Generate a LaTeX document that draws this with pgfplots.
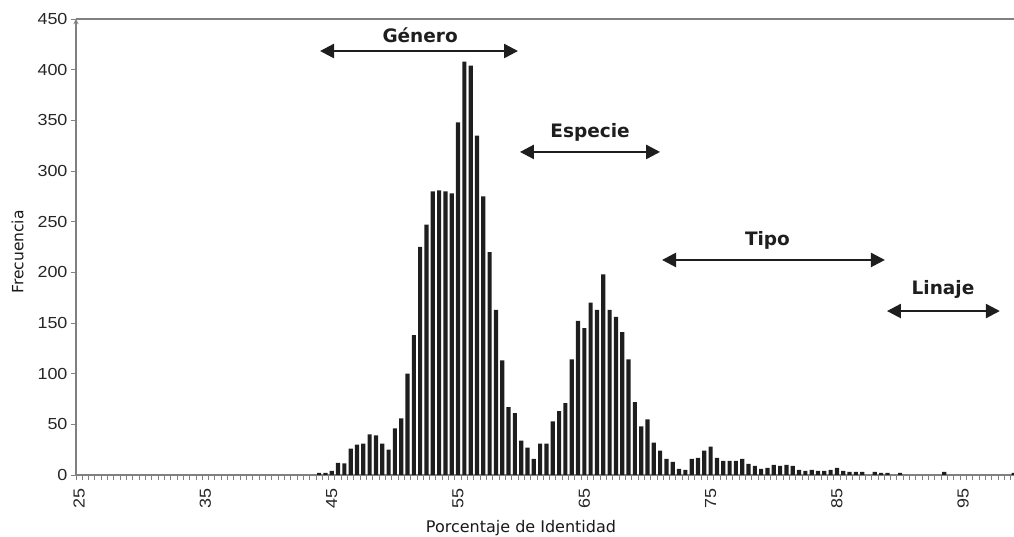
\documentclass[border=0pt]{standalone}
\usepackage{fontspec}
\setmainfont{DejaVu Sans}
\newfontfamily\tickfont{Liberation Sans}[FakeStretch=1.12]
\usepackage{pgfplots}
\pgfplotsset{compat=1.18}
\usepackage{pgfplotstable}
\usetikzlibrary{arrows.meta}
\definecolor{barc}{HTML}{1E1E1E}
\definecolor{axc}{HTML}{808080}
\pgfplotstableread{
x y
44 2
44.5 2
45 4
45.5 12
46 11.5
46.5 26
47 30
47.5 31
48 40
48.5 39
49 31
49.5 25
50 46
50.5 56
51 100
51.5 138
52 225
52.5 247
53 280
53.5 281
54 280
54.5 278
55 348
55.5 408
56 404
56.5 335
57 275
57.5 220
58 163
58.5 113
59 67
59.5 61
60 34
60.5 27
61 16
61.5 31
62 31
62.5 53
63 63
63.5 71
64 114
64.5 152
65 145
65.5 170
66 163
66.5 198
67 163
67.5 156
68 141
68.5 114
69 72
69.5 48
70 55
70.5 32
71 24
71.5 16
72 13
72.5 6
73 5
73.5 16
74 17
74.5 24
75 28
75.5 17
76 14
76.5 14
77 14
77.5 16
78 11
78.5 9
79 6
79.5 7
80 10
80.5 9
81 10
81.5 9
82 5
82.5 4
83 5
83.5 4
84 4
84.5 5
85 7
85.5 4
86 3
86.5 3
87 3
88 3
88.5 2
89 2
90 2
93.5 3
99 2
}\datatable
\begin{document}
\begin{tikzpicture}
\begin{axis}[
  name=ax,
  scale only axis,
  width=938pt, height=456pt,
  xmin=24.75, xmax=99.02,
  ymin=0, ymax=450,
  axis x line=box, axis y line=left,
  axis line style={axc, line width=1.3pt},
  xtick={25,35,45,55,65,75,85,95},
  minor xtick={24.75,25.25,...,99.3},
  ytick={0,50,...,450},
  xtick pos=bottom, ytick pos=left,
  tick align=outside,
  major x tick style={draw=none},
  minor tick length=5pt,
  major tick length=5pt,
  tick style={axc, line width=0.9pt},
  /pgf/number format/assume math mode=true,
  xticklabel style={font=\tickfont\fontsize{16}{16}\selectfont, rotate=90, anchor=east, xshift=-5pt, text=black!85},
  yticklabel style={font=\tickfont\fontsize{16}{16}\selectfont, text=black!85},
  xlabel={Porcentaje de Identidad},
  xlabel style={font=\fontsize{16}{16}\selectfont, at={(axis description cs:0.4744,0)}, anchor=base, yshift=-58pt, text=black!90},
  ylabel={Frecuencia},
  ylabel style={font=\fontsize{15.5}{15.5}\selectfont, at={(axis description cs:-0.0624,0.489)}, anchor=center, rotate=0, text=black!90},
  clip=true,
]
\addplot[ybar, bar width=0.33, fill=barc, draw=none] table[x=x,y=y] {\datatable};
\draw[barc, line width=2.4pt, {Triangle[length=14pt,width=14pt]}-{Triangle[length=14pt,width=14pt]}] (axis cs:44.07,418.4) -- (axis cs:59.75,418.4);
\node[font=\bfseries\fontsize{18.5}{18.5}\selectfont, text=barc] at (axis cs:52.0,434) {Género};
\draw[barc, line width=2.4pt, {Triangle[length=14pt,width=14pt]}-{Triangle[length=14pt,width=14pt]}] (axis cs:59.9,318.8) -- (axis cs:71.0,318.8);
\node[font=\bfseries\fontsize{18.5}{18.5}\selectfont, text=barc] at (axis cs:65.45,338.5) {Especie};
\draw[barc, line width=2.4pt, {Triangle[length=14pt,width=14pt]}-{Triangle[length=14pt,width=14pt]}] (axis cs:71.15,212.2) -- (axis cs:88.8,212.2);
\node[font=\bfseries\fontsize{18.5}{18.5}\selectfont, text=barc] at (axis cs:79.5,232) {Tipo};
\draw[barc, line width=2.4pt, {Triangle[length=14pt,width=14pt]}-{Triangle[length=14pt,width=14pt]}] (axis cs:88.96,161.8) -- (axis cs:97.9,161.8);
\node[font=\bfseries\fontsize{18.5}{18.5}\selectfont, text=barc] at (axis cs:93.4,182.6) {Linaje};
\end{axis}
\pgfresetboundingbox
\path[use as bounding box] ([shift={(-76pt,-62pt)}]ax.south west) rectangle ([shift={(0pt,19pt)}]ax.north east);
\end{tikzpicture}
\end{document}
